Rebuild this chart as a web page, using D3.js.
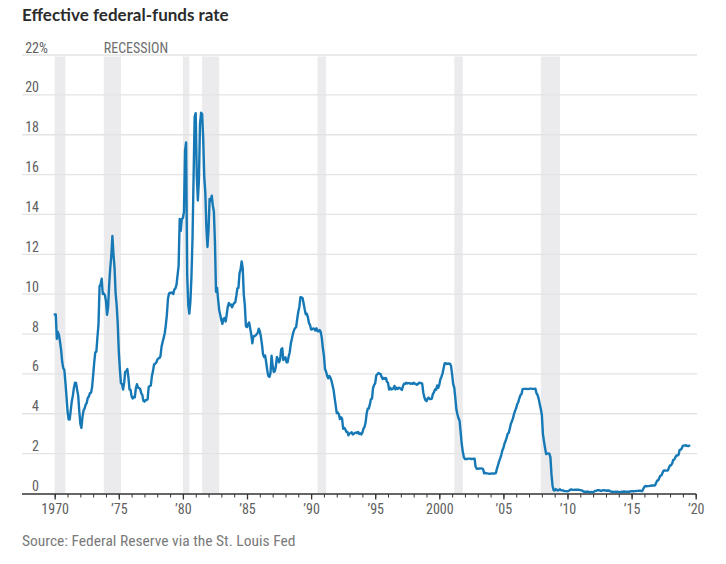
<!DOCTYPE html>
<html>
<head>
<meta charset="utf-8">
<script src="https://cdn.jsdelivr.net/npm/d3@7"></script>
<style>
  html, body { margin: 0; padding: 0; background: #fff; }
  svg { display: block; }
  .narrow { font-family: "Liberation Sans Narrow", "Roboto Condensed", "Arial Narrow", "DejaVu Sans Condensed", sans-serif; font-stretch: condensed; }
</style>
</head>
<body>
<svg id="chart" width="726" height="564"></svg>
<script>
// ---- Data (monthly effective federal-funds rate, %, starting Jan 1970) ----
const startYear = 1970;
const rates1970s = [
  8.98, 8.98, 7.76, 8.10, 7.95, 7.61, 7.21, 6.62, 6.29, 6.20, 5.60, 4.90,
  4.14, 3.72, 3.71, 4.16, 4.63, 4.91, 5.31, 5.56, 5.55, 5.20, 4.91, 4.14,
  3.50, 3.29, 3.83, 4.17, 4.27, 4.46, 4.55, 4.80, 4.87, 5.04, 5.06, 5.33,
  5.94, 6.58, 7.09, 7.12, 7.84, 8.49, 10.40, 10.50, 10.78, 10.01, 10.03, 9.95,
  9.65, 8.97, 9.35, 10.51, 11.31, 11.93, 12.92, 12.01, 11.34, 10.06, 9.45, 8.53,
  7.13, 6.24, 5.54, 5.49, 5.22, 5.55, 6.10, 6.14, 6.24, 5.82, 5.22, 5.20,
  4.87, 4.77, 4.84, 4.82, 5.29, 5.48, 5.31, 5.29, 5.25, 5.03, 4.95, 4.65,
  4.61, 4.68, 4.69, 4.73, 5.35, 5.39, 5.42, 5.90, 6.14, 6.47, 6.51, 6.56,
  6.70, 6.78, 6.79, 6.89, 7.36, 7.60, 7.81, 8.04, 8.45, 8.96, 9.76, 10.03,
  10.07, 10.06, 10.09, 10.01, 10.24, 10.29, 10.47, 10.94, 11.43, 13.77, 13.18, 13.78
];
const rates1980s = [
  13.82, 14.13, 17.19, 17.61, 10.98, 9.47, 9.03, 9.61, 10.87, 12.81, 15.85, 18.90,
  19.08, 15.93, 14.70, 15.72, 18.52, 19.10, 19.04, 17.82, 15.87, 15.08, 13.31, 12.37,
  13.22, 14.78, 14.68, 14.94, 14.45, 14.15, 12.59, 10.12, 10.31, 9.71, 9.20, 8.95,
  8.68, 8.51, 8.77, 8.80, 8.63, 8.98, 9.37, 9.56, 9.45, 9.48, 9.34, 9.47,
  9.56, 9.59, 9.91, 10.29, 10.32, 11.06, 11.23, 11.64, 11.30, 9.99, 9.43, 8.38,
  8.35, 8.50, 8.58, 8.27, 7.97, 7.53, 7.88, 7.90, 7.92, 7.99, 8.05, 8.27,
  8.14, 7.86, 7.48, 6.99, 6.85, 6.92, 6.56, 6.17, 5.89, 5.85, 6.04, 6.91,
  6.43, 6.10, 6.13, 6.37, 6.85, 6.73, 6.58, 6.73, 7.22, 7.29, 6.69, 6.77,
  6.83, 6.58, 6.58, 6.87, 7.09, 7.51, 7.75, 8.01, 8.19, 8.30, 8.35, 8.76,
  9.12, 9.36, 9.85, 9.84, 9.81, 9.53, 9.24, 8.99, 9.02, 8.84, 8.55, 8.45
];
const rates1990s = [
  8.23, 8.24, 8.28, 8.26, 8.18, 8.29, 8.15, 8.13, 8.20, 8.11, 7.81, 7.31,
  6.91, 6.25, 6.12, 5.91, 5.78, 5.90, 5.82, 5.66, 5.45, 5.21, 4.81, 4.43,
  4.03, 4.06, 3.98, 3.73, 3.82, 3.76, 3.25, 3.30, 3.22, 3.10, 3.09, 2.92,
  3.02, 3.03, 3.07, 2.96, 3.00, 3.04, 3.06, 3.03, 3.09, 2.99, 3.02, 2.96,
  3.05, 3.25, 3.34, 3.56, 4.01, 4.25, 4.26, 4.47, 4.73, 4.76, 5.29, 5.45,
  5.53, 5.92, 5.98, 6.05, 6.01, 6.00, 5.85, 5.74, 5.80, 5.76, 5.80, 5.60,
  5.56, 5.22, 5.31, 5.22, 5.24, 5.27, 5.40, 5.22, 5.30, 5.24, 5.31, 5.29,
  5.25, 5.19, 5.39, 5.51, 5.50, 5.56, 5.52, 5.54, 5.54, 5.50, 5.52, 5.50,
  5.56, 5.51, 5.49, 5.45, 5.49, 5.56, 5.54, 5.55, 5.51, 5.07, 4.83, 4.68,
  4.63, 4.76, 4.81, 4.74, 4.74, 4.76, 4.99, 5.07, 5.22, 5.20, 5.42, 5.30
];
const rates2000s = [
  5.45, 5.73, 5.85, 6.02, 6.27, 6.53, 6.54, 6.50, 6.52, 6.51, 6.51, 6.40,
  5.98, 5.49, 5.31, 4.80, 4.21, 3.97, 3.77, 3.65, 3.07, 2.49, 2.09, 1.82,
  1.73, 1.74, 1.73, 1.75, 1.75, 1.75, 1.73, 1.74, 1.75, 1.75, 1.34, 1.24,
  1.24, 1.26, 1.25, 1.26, 1.26, 1.22, 1.01, 1.03, 1.01, 1.01, 1.00, 0.98,
  1.00, 1.01, 1.00, 1.00, 1.00, 1.03, 1.26, 1.43, 1.61, 1.76, 1.93, 2.16,
  2.28, 2.50, 2.63, 2.79, 3.00, 3.04, 3.26, 3.50, 3.62, 3.78, 4.00, 4.16,
  4.29, 4.49, 4.59, 4.79, 4.94, 4.99, 5.24, 5.25, 5.25, 5.25, 5.25, 5.24,
  5.25, 5.26, 5.26, 5.25, 5.25, 5.25, 5.26, 5.02, 4.94, 4.76, 4.49, 4.24,
  3.94, 2.98, 2.61, 2.28, 1.98, 2.00, 2.01, 2.00, 1.81, 0.97, 0.39, 0.16,
  0.15, 0.22, 0.18, 0.15, 0.18, 0.21, 0.16, 0.16, 0.15, 0.12, 0.12, 0.12
];
const rates2010s = [
  0.11, 0.13, 0.16, 0.20, 0.20, 0.18, 0.18, 0.19, 0.19, 0.19, 0.19, 0.18,
  0.17, 0.16, 0.14, 0.10, 0.09, 0.09, 0.07, 0.10, 0.08, 0.07, 0.08, 0.07,
  0.08, 0.10, 0.13, 0.14, 0.16, 0.16, 0.16, 0.13, 0.14, 0.16, 0.16, 0.16,
  0.14, 0.15, 0.14, 0.15, 0.11, 0.09, 0.09, 0.08, 0.08, 0.09, 0.08, 0.09,
  0.07, 0.07, 0.08, 0.09, 0.09, 0.10, 0.09, 0.09, 0.09, 0.09, 0.09, 0.12,
  0.11, 0.11, 0.11, 0.12, 0.12, 0.13, 0.13, 0.14, 0.14, 0.12, 0.12, 0.24,
  0.34, 0.38, 0.36, 0.37, 0.37, 0.38, 0.39, 0.40, 0.40, 0.40, 0.41, 0.54,
  0.65, 0.66, 0.79, 0.90, 0.91, 1.04, 1.15, 1.16, 1.15, 1.15, 1.16, 1.30,
  1.41, 1.42, 1.51, 1.69, 1.70, 1.82, 1.91, 1.91, 1.95, 2.19, 2.20, 2.27,
  2.40, 2.40, 2.41, 2.42, 2.39, 2.38, 2.40
];
// Recessions (start, end as decimal years)
const recessionStarts = [1970.0, 1973.83, 1980.0, 1981.5, 1990.5, 2001.17, 2007.92];
const recessionEnds   = [1970.83, 1975.17, 1980.5, 1982.83, 1991.17, 2001.83, 2009.42];
const yTicks = [0, 2, 4, 6, 8, 10, 12, 14, 16, 18, 20, 22];
const xMajorTicks = [1970, 1975, 1980, 1985, 1990, 1995, 2000, 2005, 2010, 2015, 2020];
const xMajorLabels = ["1970", "\u201975", "\u201980", "\u201985", "\u201990", "\u201995", "2000", "\u201905", "\u201910", "\u201915", "\u201920"];
const xMinorTicks = d3.range(1970, 2021);

const titleText = "Effective federal-funds rate";
const sourceText = "Source: Federal Reserve via the St. Louis Fed";

// ---- Layout ----
const svg = d3.select("#chart");
const gridLeft = 22, gridRight = 697;
const x = d3.scaleLinear().domain([1970, 2020]).range([54.7, 695.7]);
const y = d3.scaleLinear().domain([0, 22]).range([493.5, 55]);

const allRates = [].concat(rates1970s, rates1980s, rates1990s, rates2000s, rates2010s);
const series = allRates.map((v, i) => ({ t: startYear + i / 12, v }));

// Recession bars
svg.append("g").selectAll("rect")
  .data(recessionStarts.map((s, i) => [s, recessionEnds[i]]))
  .join("rect")
  .attr("x", d => x(d[0]))
  .attr("width", d => x(d[1]) - x(d[0]))
  .attr("y", y(22) + 1.5)
  .attr("height", y(0) - y(22) - 1.5)
  .attr("fill", "#ebebed");

// Gridlines
svg.append("g").selectAll("line")
  .data(yTicks.filter(d => d > 0))
  .join("line")
  .attr("x1", gridLeft).attr("x2", gridRight)
  .attr("y1", d => y(d)).attr("y2", d => y(d))
  .attr("stroke", "#e3e3e3").attr("stroke-width", 1.3);

// Y labels
const yLab = svg.append("g").attr("class", "narrow");
yLab.selectAll("text.num")
  .data(yTicks)
  .join("text")
  .attr("class", "num")
  .attr("x", 39).attr("y", d => y(d) - 2.5)
  .attr("text-anchor", "end")
  .attr("font-size", 14).attr("fill", "#606060")
  .text(d => d);
yLab.append("text")
  .attr("x", 39).attr("y", y(22) - 2.5)
  .attr("font-size", 14).attr("fill", "#606060")
  .text("%");

// RECESSION label
svg.append("text").attr("class", "narrow")
  .attr("x", x(recessionStarts[1])).attr("y", y(22) - 2.5)
  .attr("font-size", 14).attr("fill", "#6e6e6e")
  .text("RECESSION");

// X axis
const axisY = y(0) + 0.5;
svg.append("line")
  .attr("x1", gridLeft).attr("x2", x(2020) + 0.5)
  .attr("y1", axisY).attr("y2", axisY)
  .attr("stroke", "#333").attr("stroke-width", 1.3);

const minorAxis = d3.axisBottom(x).tickValues(xMinorTicks).tickSize(3.5).tickFormat("");
const gMinor = svg.append("g").attr("transform", `translate(0,${axisY})`).call(minorAxis);
gMinor.select(".domain").remove();
gMinor.selectAll("line").attr("stroke", "#333").attr("stroke-width", 1);

const majorAxis = d3.axisBottom(x).tickValues(xMajorTicks).tickSize(5.5)
  .tickPadding(5)
  .tickFormat((d, i) => xMajorLabels[i]);
const gMajor = svg.append("g").attr("transform", `translate(0,${axisY})`).call(majorAxis);
gMajor.select(".domain").remove();
gMajor.selectAll("line").attr("stroke", "#333").attr("stroke-width", 1.3);
gMajor.attr("font-family", null);
gMajor.selectAll("text")
  .attr("class", "narrow")
  .attr("font-size", 14)
  .attr("fill", "#606060");

// Line
const line = d3.line().x(d => x(d.t)).y(d => y(d.v)).curve(d3.curveLinear);
svg.append("path")
  .datum(series)
  .attr("d", line)
  .attr("fill", "none")
  .attr("stroke", "#1679b6")
  .attr("stroke-width", 2.4)
  .attr("stroke-linejoin", "round")
  .attr("stroke-linecap", "round");

// Title
svg.append("text")
  .attr("x", 22).attr("y", 21)
  .attr("font-family", "Lato, 'Open Sans', sans-serif")
  .attr("font-weight", 700)
  .attr("font-size", 17)
  .attr("fill", "#2b2b2b")
  .text(titleText);

// Source
svg.append("text").attr("class", "narrow")
  .attr("x", 22).attr("y", 546)
  .attr("font-size", 15.5)
  .attr("fill", "#7a7a7a")
  .text(sourceText);
</script>
</body>
</html>
